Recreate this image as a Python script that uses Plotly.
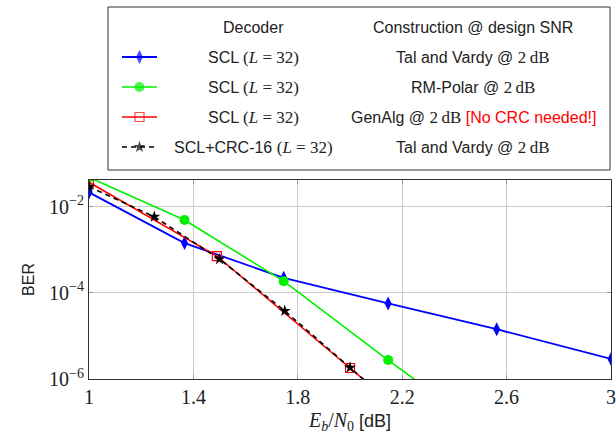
import plotly.graph_objects as go

# ---------------- data ----------------
x_tv = [1.0, 1.366, 1.746, 2.146, 2.562, 3.0]
ber_tv = [2.15e-2, 1.43e-3, 2.23e-4, 5.66e-5, 1.43e-5, 2.92e-6]

x_rm = [1.0, 1.366, 1.746, 2.146, 2.562]
ber_rm = [4.8e-2, 4.9e-3, 1.87e-4, 2.75e-6, 4.0e-8]

x_ga = [1.0, 1.49, 2.0, 2.5]
ber_ga = [3.7e-2, 7.13e-4, 1.8e-6, 5.0e-9]

x_crc = [1.0, 1.25, 1.5, 1.75, 2.0, 2.25]
ber_crc = [2.92e-2, 5.85e-3, 6.08e-4, 3.81e-5, 1.84e-6, 9.0e-8]

x_ticks = [1, 1.4, 1.8, 2.2, 2.6, 3]
x_ticktext = ["1", "1.4", "1.8", "2.2", "2.6", "3"]
y_ticks = [1e-6, 1e-4, 1e-2]
y_ticktext = ["10<sup>\u22126</sup>", "10<sup>\u22124</sup>", "10<sup>\u22122</sup>"]

SERIF = "Liberation Serif"
SANS = "Liberation Sans"

def math(s, size=None):
    extra = f";font-size:{size}px" if size else ""
    return f"<span style=\"font-family:{SERIF}{extra}\">{s}</span>"

L32 = math("(<i>L</i> = 32)", 17)
DB2 = math("2\u2009dB", 17)
legend_rows = [
    ("SCL " + L32, "Tal and Vardy @ " + DB2),
    ("SCL " + L32, "RM-Polar @ " + DB2),
    ("SCL " + L32, "GenAlg @ " + DB2 + " <span style=\"color:#ff0000\">[No CRC needed!]</span>"),
    ("SCL+CRC-16 " + L32, "Tal and Vardy @ " + DB2),
]

styles = [
    dict(color="#0000ff", width=1.8, dash="solid", symbol="diamond-tall", size=10, mline=0, mcolor="#0000ff"),
    dict(color="#00f000", width=1.6, dash="solid", symbol="circle", size=10, mline=0, mcolor="#00f000"),
    dict(color="#ff0000", width=1.6, dash="solid", symbol="square-open", size=9, mline=1.2, mcolor="#ff0000"),
    dict(color="#000000", width=1.6, dash="5px,4px", symbol="star", size=9, mline=0, mcolor="#000000"),
]
series = [(x_tv, ber_tv), (x_rm, ber_rm), (x_ga, ber_ga), (x_crc, ber_crc)]

fig = go.Figure()
for (xs, ys), st in zip(series, styles):
    fig.add_trace(go.Scatter(
        x=xs, y=ys, mode="lines+markers", xaxis="x", yaxis="y",
        line=dict(color=st["color"], width=st["width"], dash=st["dash"]),
        marker=dict(symbol=st["symbol"], size=st["size"], color=st["mcolor"],
                    line=dict(width=st["mline"], color=st["mcolor"])),
        showlegend=False, hoverinfo="skip"))

# legend samples (pixel coordinates via overlay axis)
row_y = [57, 87, 117, 147]
for st, ry in zip(styles, row_y):
    fig.add_trace(go.Scatter(
        x=[122, 139.5, 157], y=[ry, ry, ry], mode="lines+markers", xaxis="x2", yaxis="y2",
        line=dict(color=st["color"], width=st["width"], dash=st["dash"]),
        marker=dict(symbol=st["symbol"], size=[0, st["size"], 0], color=st["mcolor"],
                    line=dict(width=st["mline"], color=st["mcolor"])),
        showlegend=False, hoverinfo="skip", cliponaxis=False))

annotations = [
    dict(x=253, y=27, text="Decoder"),
    dict(x=473, y=27, text="Construction @ design SNR"),
]
for (dec, cons), ry in zip(legend_rows, row_y):
    annotations.append(dict(x=253, y=ry, text=dec))
    annotations.append(dict(x=473, y=ry, text=cons))
for a in annotations:
    a.update(xref="x2", yref="y2", xanchor="center", yanchor="middle", showarrow=False,
             font=dict(family=SANS, size=16, color="#222222"))

fig.update_layout(
    width=616, height=437,
    margin=dict(l=89, r=5, t=0, b=58, pad=0),
    paper_bgcolor="white", plot_bgcolor="white",
    xaxis=dict(
        domain=[0, 1], range=[1, 3], anchor="y",
        tickmode="array", tickvals=x_ticks, ticktext=x_ticktext,
        tickfont=dict(family=SERIF, size=20, color="#222222"),
        showgrid=True, gridcolor="#cccccc", gridwidth=1, zeroline=False,
        showline=True, linecolor="#333333", linewidth=1, mirror="ticks",
        ticks="inside", ticklen=4, tickcolor="#999999",
        title=dict(text=math("<i>E</i><sub><i>b</i></sub>/<i>N</i><sub>0</sub>", 20) + " [dB]",
                   font=dict(family=SANS, size=18, color="#222222"), standoff=7),
    ),
    yaxis=dict(
        type="log", domain=[0, 0.52507], range=[-6, -1.38], anchor="x",
        tickmode="array", tickvals=y_ticks, ticktext=y_ticktext,
        tickfont=dict(family=SERIF, size=20, color="#222222"),
        showgrid=True, gridcolor="#cccccc", gridwidth=1, zeroline=False,
        showline=True, linecolor="#333333", linewidth=1, mirror="ticks",
        ticks="inside", ticklen=4, tickcolor="#999999",
        title=dict(text="BER", font=dict(family=SANS, size=16, color="#222222"), standoff=10),
    ),
    xaxis2=dict(domain=[0, 1], range=[89, 611], anchor="y2", visible=False),
    yaxis2=dict(domain=[0.53826, 1], range=[175, 0], anchor="x2", visible=False),
    shapes=[dict(type="rect", xref="x2", yref="y2", x0=108, x1=610, y0=7, y1=170,
                 line=dict(color="#333333", width=1), fillcolor="rgba(0,0,0,0)")],
    annotations=annotations,
)

fig.write_html("out.html", config={"displayModeBar": False},
               post_script="document.body.style.margin='0px';document.body.style.overflow='hidden';")
